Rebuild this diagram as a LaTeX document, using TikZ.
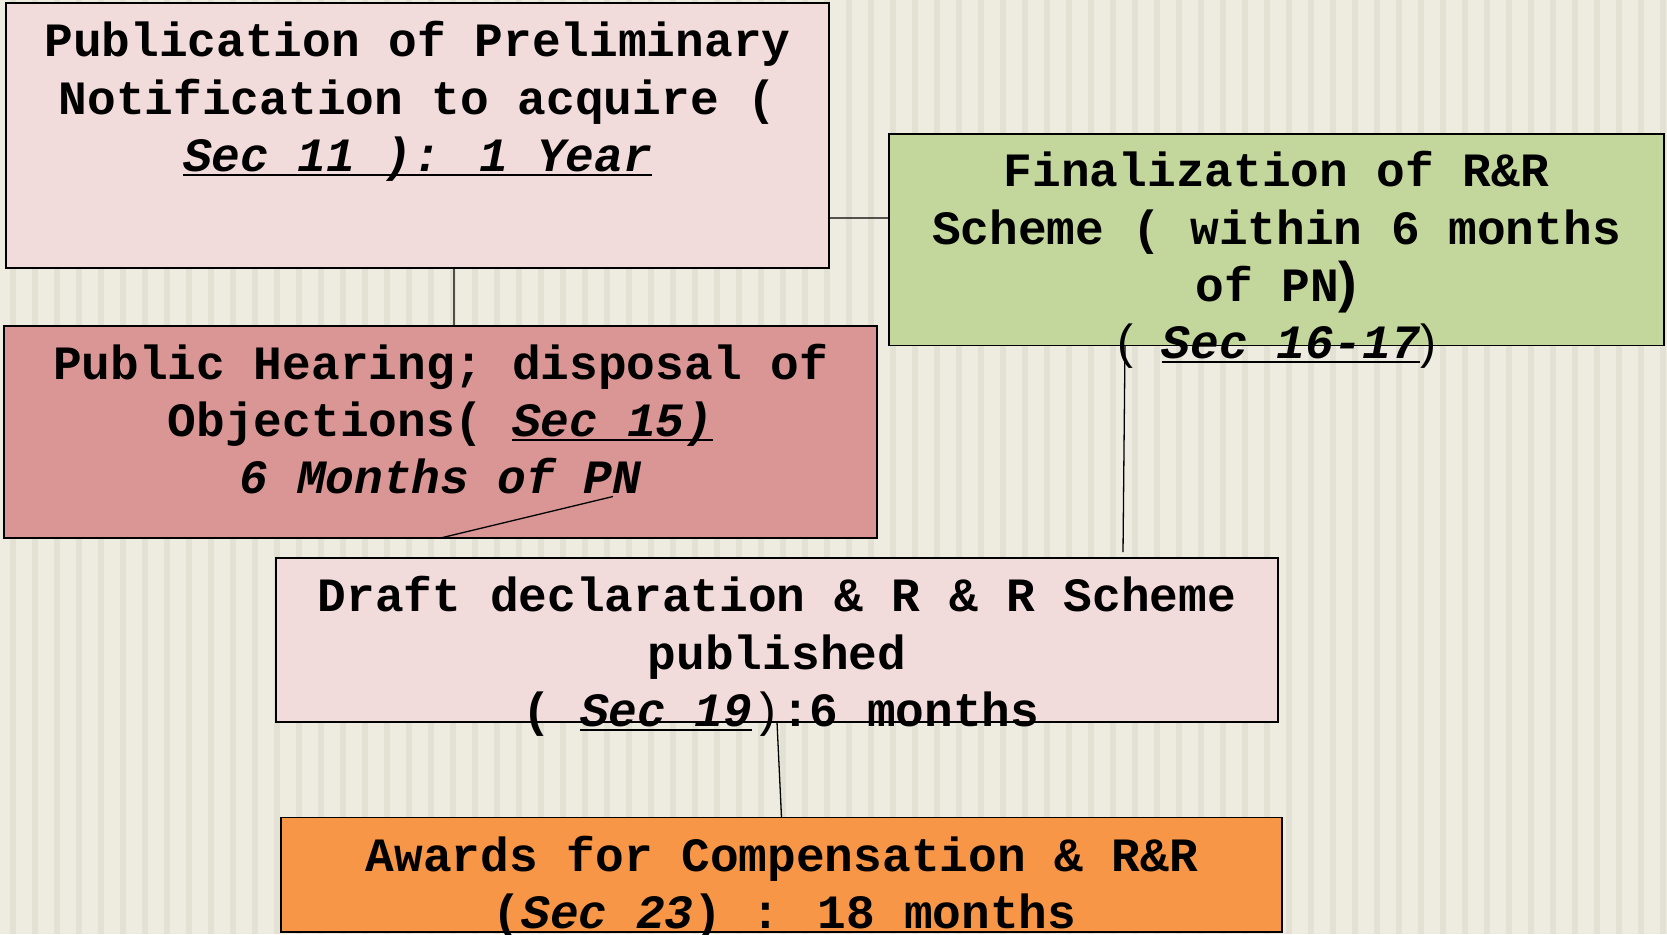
\documentclass[tikz,border=0pt]{standalone}
\usepackage{fontspec}
\setmainfont{Liberation Mono}
\newfontfamily\parfont{Liberation Sans}
\newsavebox\ulbox
\newcommand\ulit[1]{\sbox\ulbox{\itshape #1}\rlap{\rule[-5bp]{\wd\ulbox}{2.5bp}}\usebox\ulbox}
\definecolor{bgc}{HTML}{EEECE1}
\definecolor{stripec}{HTML}{E3E1D3}
\definecolor{pinkc}{HTML}{F2DCDB}
\definecolor{greenc}{HTML}{C3D69B}
\definecolor{rosec}{HTML}{D99694}
\definecolor{orangec}{HTML}{F79646}
\begin{document}
\begin{tikzpicture}[x=1bp,y=-1bp,
  box/.style={draw=black, line width=1.6bp, inner sep=0pt, outer sep=0pt},
  txt/.style={anchor=base, inner sep=0pt, outer sep=0pt, font=\bfseries\fontsize{48pt}{57.6pt}\selectfont},
  conn/.style={draw=black, line width=1.3bp}]
\useasboundingbox (0,0) rectangle (1667,934);
\fill[bgc] (0,0) rectangle (1667,934);
\foreach \i in {0,...,75} \fill[stripec] ({10+22*\i},0) rectangle ({16+22*\i},934);

% boxes
\node[box, fill=pinkc, minimum width=823bp, minimum height=265bp] (b1) at (417.5,135.5) {};
\node[box, fill=greenc, minimum width=775bp, minimum height=211.5bp] (gr) at (1276.5,239.75) {};
\node[box, fill=rosec, minimum width=873bp, minimum height=212bp] (ph) at (440.5,432) {};
\node[box, fill=pinkc, minimum width=1002bp, minimum height=164bp] (dr) at (777,640) {};
\node[box, fill=orangec, minimum width=1001bp, minimum height=114.5bp] (aw) at (781.5,874.75) {};

% connectors
\draw[conn] ([xshift=36.5bp]b1.south) -- ([xshift=13.5bp]ph.north);
\draw[conn] ([yshift=-82.5bp]b1.east) -- ([yshift=21.75bp]gr.west);
\draw[conn] ([xshift=-151.5bp]gr.south) -- ([xshift=346bp,yshift=6bp]dr.north);
\coordinate (phx) at (613,496.5);
\draw[conn] (phx) -- (ph.south);
\draw[conn] (dr.south) -- (aw.north);

% texts
\node[txt] (t1a) at (417.5,56.5) {Publication of Preliminary};
\node[txt] (t1b) at (417.5,114) {Notification to acquire (};
\node[txt] (t1c) at (417.5,171) {\ulit{Sec 11 ): 1 Year}};

\node[txt] (t2a) at (1276.5,186) {Finalization of R\&R};
\node[txt] (t2b) at (1276.5,244) {Scheme ( within 6 months};
\node[txt] (t2c) at (1276.5,301) {of PN{\parfont\fontsize{56pt}{56pt}\selectfont )}};
\node[txt] (t2d) at (1276.5,358) {{\mdseries\parfont (} \ulit{Sec 16-17}{\mdseries\parfont )}};

\node[txt] (t3a) at (440.5,379) {Public Hearing; disposal of};
\node[txt] (t3b) at (440.5,436) {Objections( \ulit{Sec 15)}};
\node[txt] (t3c) at (440.5,493.5) {\itshape 6 Months of PN};

\node[txt] (t4a) at (777,611.5) {Draft declaration \& R \& R Scheme};
\node[txt] (t4b) at (777,669) {published};
\node[txt] (t4c) at (781,726) {( \ulit{Sec 19}{\mdseries )}:6 months};

\node[txt] (t5a) at (782,871) {Awards for Compensation \& R\&R};
\node[txt] (t5b) at (784.5,928) {(\ulit{Sec 23}) : 18 months};
\end{tikzpicture}
\end{document}
